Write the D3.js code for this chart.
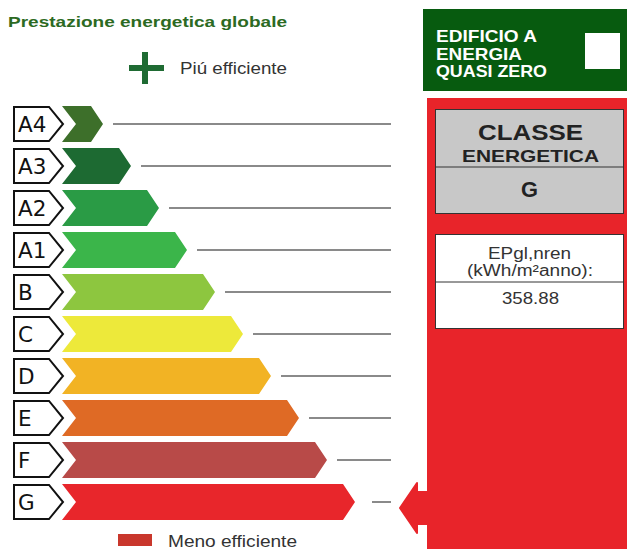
<!DOCTYPE html>
<html><head><meta charset="utf-8">
<script src="https://cdn.jsdelivr.net/npm/d3@7"></script>
<style>body{margin:0;background:#fff}svg{display:block}</style>
</head><body>
<script>
const classes = ["A4","A3","A2","A1","B","C","D","E","F","G"];
const levels = [1,2,3,4,5,6,7,8,9,10];
const colors = ["#3d6f2a","#1d6a32","#2a9b45","#3bb54a","#8dc63f","#ede93a","#f2b324","#df6a25","#b84a48","#e8262b"];
const currentClass = "G";
const epValue = "358.88";
const title = "Prestazione energetica globale";
const topLabel = "Piú efficiente";
const bottomLabel = "Meno efficiente";
const nzebLines = ["EDIFICIO A", "ENERGIA", "QUASI ZERO"];

const W = 627, H = 549;
const svg = d3.select("body").append("svg").attr("width", W).attr("height", H);
const font = "Liberation Sans, Arial, sans-serif";

function txt(s, xx, yy, size, opts = {}) {
  const t = svg.append("text").attr("x", xx).attr("y", yy).attr("font-family", font)
    .attr("font-size", size).attr("fill", opts.fill || "#333").text(s);
  if (opts.bold) t.attr("font-weight", "bold");
  if (opts.anchor) t.attr("text-anchor", opts.anchor);
  if (opts.len) t.attr("textLength", opts.len).attr("lengthAdjust", "spacingAndGlyphs");
  return t;
}

const y = d3.scaleBand().domain(classes).range([103, 523]).paddingInner(0.14).paddingOuter(0.07);
const x = d3.scaleLinear().domain([0, 10]).range([75, 355]);
const bw = y.bandwidth();

// title
txt(title, 8, 27, 15.5, {bold: true, fill: "#2c6a22", len: 279});
// plus sign
svg.append("rect").attr("x", 129).attr("y", 65).attr("width", 35).attr("height", 6).attr("fill", "#1f6b33");
svg.append("rect").attr("x", 142).attr("y", 52).attr("width", 6).attr("height", 32).attr("fill", "#1f6b33");
txt(topLabel, 180, 74, 16, {len: 107});

const rows = svg.append("g").selectAll("g").data(classes).join("g");
const notch = 14, tipD = 12;
// bars
rows.append("path")
  .attr("d", (c, i) => {
    const t = y(c), b = t + bw, m = t + bw / 2, x0 = 62, x1 = x(levels[i]);
    return `M${x0},${t} L${x1 - tipD},${t} L${x1},${m} L${x1 - tipD},${b} L${x0},${b} L${x0 + notch},${m} Z`;
  })
  .attr("fill", (c, i) => colors[i]);
// label boxes
rows.append("path")
  .attr("d", c => {
    const t = y(c) + 1, b = y(c) + bw - 1, m = y(c) + bw / 2;
    return `M14,${t} L49,${t} L63,${m} L49,${b} L14,${b} Z`;
  })
  .attr("fill", "#fff").attr("stroke", "#111").attr("stroke-width", 2).attr("stroke-linejoin", "miter");
rows.append("text")
  .attr("x", 18).attr("y", c => y(c) + bw / 2 + 8)
  .attr("font-family", "DejaVu Sans, sans-serif").attr("font-size", 21.5).attr("fill", "#111")
  .text(c => c);
// gray lines
rows.append("line")
  .attr("x1", (c, i) => x(levels[i]) + (c === currentClass ? 17 : 10))
  .attr("x2", 391)
  .attr("y1", c => y(c) + bw / 2).attr("y2", c => y(c) + bw / 2)
  .attr("stroke", "#8a8a8a").attr("stroke-width", 2);

// legend bottom
svg.append("rect").attr("x", 118).attr("y", 534).attr("width", 34).attr("height", 12).attr("fill", "#c9372c");
txt(bottomLabel, 168, 547, 16, {len: 129});

// right panel
svg.append("rect").attr("x", 423).attr("y", 9).attr("width", W - 423).attr("height", 82).attr("fill", "#075b0f");
const nzebLens = [101, 86, 111];
nzebLines.forEach((s, i) => txt(s, 436, 42 + i * 17.5, 16.5, {bold: true, fill: "#fff", len: nzebLens[i]}));
svg.append("rect").attr("x", 585).attr("y", 33).attr("width", 35).attr("height", 36).attr("fill", "#fff");

svg.append("rect").attr("x", 427).attr("y", 98).attr("width", W - 427).attr("height", H - 98).attr("fill", "#e8242a");
// grey box
svg.append("rect").attr("x", 435.5).attr("y", 109.5).attr("width", 188).attr("height", 104).attr("fill", "#c8c8c8")
  .attr("stroke", "#333").attr("stroke-width", 1);
svg.append("line").attr("x1", 435.5).attr("x2", 623.5).attr("y1", 167).attr("y2", 167).attr("stroke", "#333");
txt("CLASSE", 530.5, 140, 21.5, {bold: true, fill: "#222", anchor: "middle", len: 105});
txt("ENERGETICA", 530.5, 162, 17, {bold: true, fill: "#222", anchor: "middle", len: 137});
txt(currentClass, 529.5, 197, 21.5, {bold: true, fill: "#222", anchor: "middle", len: 17});
// white box
svg.append("rect").attr("x", 435.5).attr("y", 234.5).attr("width", 188).attr("height", 94).attr("fill", "#fff")
  .attr("stroke", "#333").attr("stroke-width", 1);
svg.append("line").attr("x1", 435.5).attr("x2", 623.5).attr("y1", 282).attr("y2", 282).attr("stroke", "#333");
txt("EPgl,nren", 529.5, 259, 16, {anchor: "middle", len: 83});
txt("(kWh/m²anno):", 530, 276, 16, {anchor: "middle", len: 126});
txt(epValue, 530.5, 304, 16, {anchor: "middle", len: 57});

// pointer arrow at current class
const cy = y(currentClass) + bw / 2 + 6;
svg.append("path")
  .attr("d", `M428,${cy - 16} L417,${cy - 16} L417,${cy - 25} L400,${cy} L417,${cy + 25} L417,${cy + 16} L428,${cy + 16} Z`)
  .attr("fill", "#e8242a").attr("stroke", "#e8242a").attr("stroke-width", 2).attr("stroke-linejoin", "round");
</script>
</body></html>
